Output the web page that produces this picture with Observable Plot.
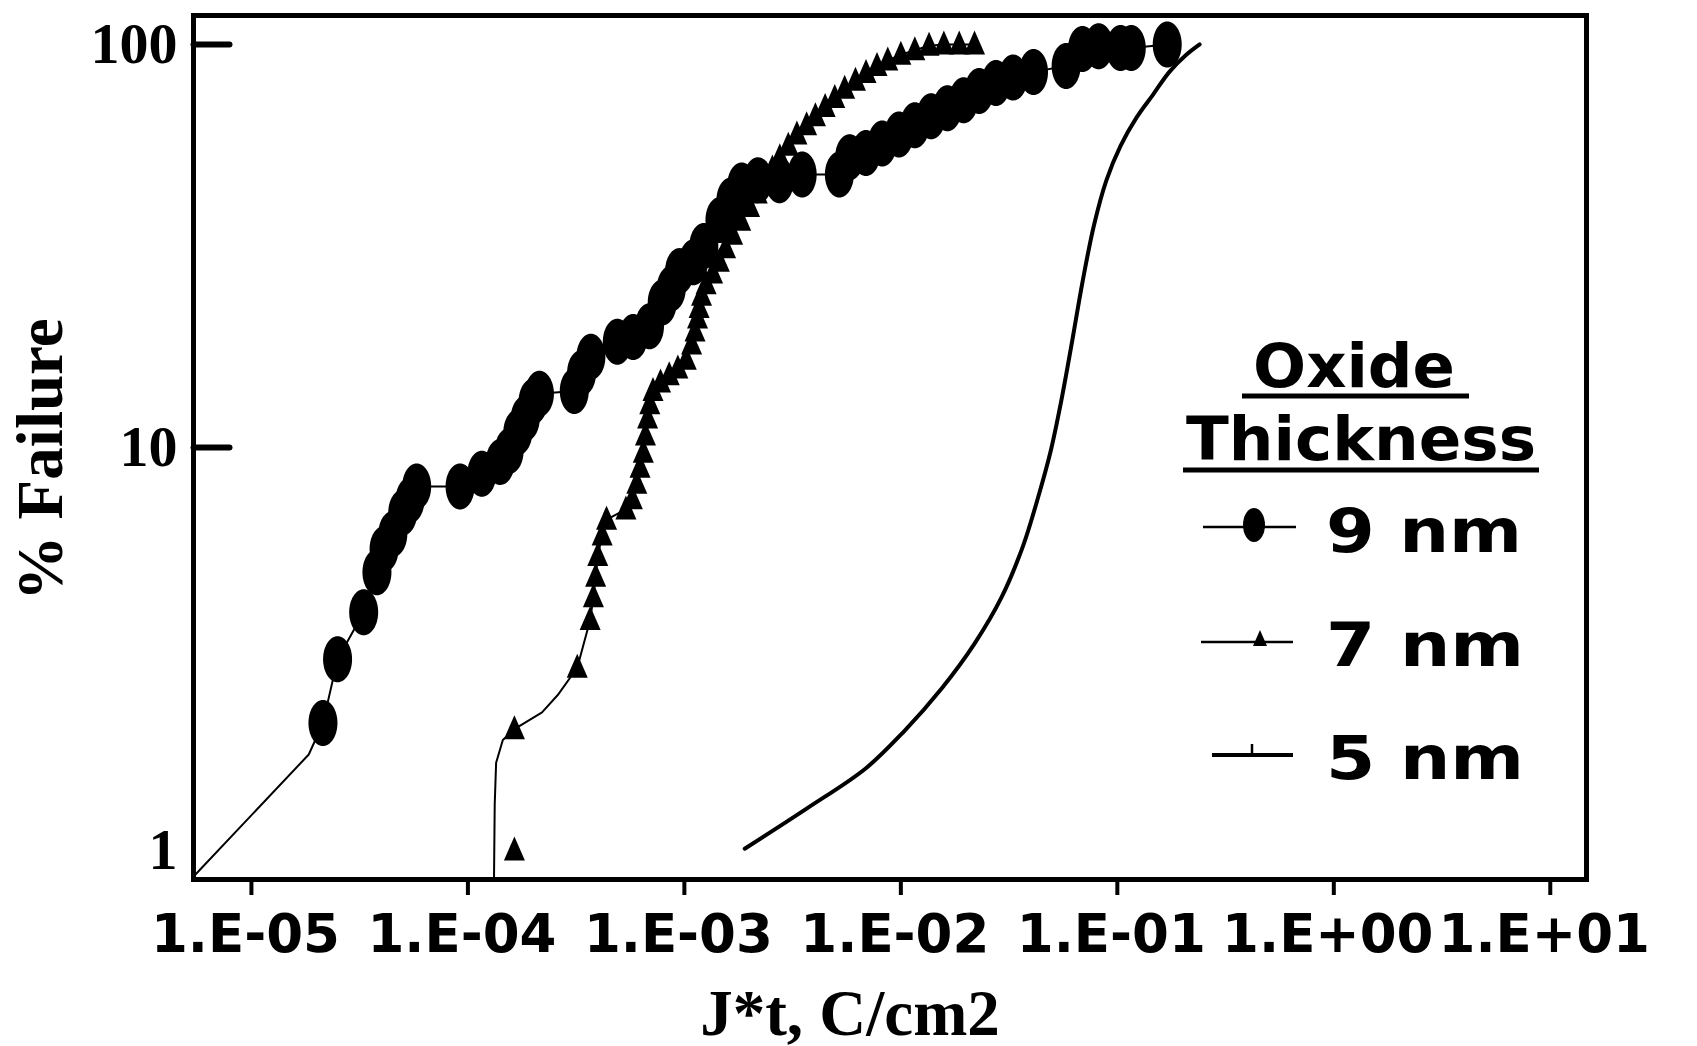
<!DOCTYPE html>
<html>
<head>
<meta charset="utf-8">
<script src="https://cdn.jsdelivr.net/npm/d3@7"></script>
<script src="https://cdn.jsdelivr.net/npm/@observablehq/plot@0.6"></script>
<style>
  html, body { margin: 0; padding: 0; background: #fff; overflow: hidden; }
  #wrap { position: relative; width: 1697px; height: 1046px; }
  #wrap > svg.plot { display: block; }
  #legend { position: absolute; left: 0; top: 0; pointer-events: none; }
</style>
</head>
<body>
<div id="wrap"></div>
<script>
// ---- tick labels ----
const xTickValues = [1e-5, 1e-4, 1e-3, 1e-2, 1e-1, 1, 10];
const xTickLabels = ["1.E-05", "1.E-04", "1.E-03", "1.E-02", "1.E-01", "1.E+00", "1.E+01"];
const yTickValues = [1, 10, 100];
const yTickLabels = ["1", "10", "100"];
const yInnerTicks = [10, 100];

// ---- 9 nm oxide (ellipse markers), J*t [C/cm2] and % failure ----
const nm9J = [2.14e-5, 2.5e-5, 3.3e-5, 3.8e-5, 4.1e-5, 4.5e-5, 5.0e-5, 5.4e-5, 5.8e-5,
  9.2e-5, 1.16e-4, 1.41e-4, 1.55e-4, 1.7e-4, 1.84e-4, 2.0e-4, 2.14e-4, 3.1e-4, 3.35e-4,
  3.7e-4, 4.9e-4, 5.8e-4, 6.9e-4, 7.9e-4, 8.7e-4, 9.5e-4, 1.1e-3, 1.23e-3, 1.46e-3,
  1.64e-3, 1.84e-3, 2.19e-3, 2.75e-3, 3.5e-3, 5.2e-3, 5.8e-3, 6.9e-3, 8.2e-3, 9.8e-3,
  1.16e-2, 1.38e-2, 1.64e-2, 1.95e-2, 2.3e-2, 2.75e-2, 3.3e-2, 4.1e-2, 5.8e-2, 6.9e-2,
  8.2e-2, 0.1035, 0.116, 0.17];
const nm9F = [2.07, 2.98, 3.9, 4.9, 5.6, 6.1, 6.9, 7.4, 8.0,
  8.0, 8.6, 9.2, 9.8, 10.9, 11.8, 13.0, 13.6, 13.8, 15.3,
  16.8, 18.3, 18.8, 20.0, 22.9, 24.8, 27.4, 28.8, 31.6, 36.7,
  41, 44.7, 46, 46, 47.6, 47.6, 52.5, 53.8, 56.8, 59.8,
  63, 66.4, 69.5, 72.7, 76.6, 80.2, 82.8, 85.5, 88.4, 97.4,
  99, 98, 98, 100];
// the 9 nm line starts at the lower-left corner
const nm9LeadJ = [5.5e-6, 1.84e-5];
const nm9LeadF = [0.87, 1.73];

// ---- 7 nm oxide (triangle markers) ----
const nm7J = [1.64e-4, 1.64e-4, 3.2e-4, 3.67e-4, 3.80e-4, 3.89e-4, 3.98e-4, 4.17e-4, 4.37e-4,
  5.37e-4, 5.75e-4, 6.03e-4, 6.24e-4, 6.46e-4, 6.61e-4, 6.76e-4, 6.92e-4, 7.16e-4, 7.76e-4,
  8.51e-4, 9.33e-4, 1.02e-3, 1.08e-3, 1.12e-3, 1.15e-3, 1.17e-3, 1.20e-3, 1.26e-3, 1.35e-3,
  1.45e-3, 1.55e-3, 1.67e-3, 1.82e-3, 2.0e-3, 2.17e-3, 2.35e-3, 2.55e-3, 2.76e-3, 3.02e-3,
  3.31e-3, 3.67e-3, 4.03e-3, 4.47e-3, 4.95e-3, 5.5e-3, 6.17e-3, 6.9e-3, 7.76e-3, 8.7e-3,
  1.0e-2, 1.16e-2, 1.35e-2, 1.58e-2, 1.86e-2, 2.19e-2];
const nm7F = [1.0, 2.0, 2.84, 3.73, 4.25, 4.78, 5.38, 6.05, 6.62,
  7.02, 7.44, 8.13, 8.9, 9.7, 10.7, 11.8, 12.8, 13.8, 14.5,
  15.1, 15.7, 16.5, 18.0, 19.4, 20.9, 22.2, 23.8, 25.4, 27.0,
  28.9, 31.2, 33.7, 36.5, 39.5, 42.7, 46.1, 49.2, 52.5, 56.1,
  59.8, 63.0, 66.4, 70.0, 73.6, 77.6, 81.3, 85.0, 88.4, 91.3,
  94.3, 96.8, 99.3, 100, 100, 100];
// start of the 7 nm line (rises from the axis before the markers)
const nm7LeadJ = [1.32e-4, 1.33e-4, 1.35e-4, 1.45e-4, 1.64e-4, 2.2e-4, 2.6e-4];
const nm7LeadF = [0.85, 1.3, 1.65, 1.88, 2.0, 2.2, 2.43];

// ---- 5 nm oxide (line) ----
const nm5J = [1.9e-3, 3.67e-3, 6.9e-3, 1.03e-2, 1.55e-2, 2.19e-2, 2.92e-2, 3.67e-2, 4.36e-2,
  4.9e-2, 5.5e-2, 6.2e-2, 6.9e-2, 7.8e-2, 8.9e-2, 0.1035, 0.123, 0.146, 0.174, 0.207, 0.24];
const nm5F = [1.01, 1.27, 1.6, 1.97, 2.53, 3.26, 4.25, 5.7, 7.7,
  9.7, 13, 18.5, 25.7, 35.6, 46, 56, 66, 75, 85.5, 94, 100];

// ---- build tables ----
const zip = (J, F) => J.map((j, i) => ({J: j, F: F[i]}));
const nm9 = zip(nm9J, nm9F);
const nm9Line = zip(nm9LeadJ, nm9LeadF).concat(nm9);
const nm7 = zip(nm7J, nm7F);
const nm7Line = zip(nm7LeadJ, nm7LeadF).concat(nm7.slice(2));
const nm5 = zip(nm5J, nm5F);

// custom marker / tick shapes
const ellipseSym = {draw(ctx) {
  const rx = 14.5, ry = 23, k = 0.5523;
  ctx.moveTo(rx, 0);
  ctx.bezierCurveTo(rx, ry * k, rx * k, ry, 0, ry);
  ctx.bezierCurveTo(-rx * k, ry, -rx, ry * k, -rx, 0);
  ctx.bezierCurveTo(-rx, -ry * k, -rx * k, -ry, 0, -ry);
  ctx.bezierCurveTo(rx * k, -ry, rx, -ry * k, rx, 0);
  ctx.closePath();
}};
const triSym = {draw(ctx) {
  ctx.moveTo(0, -14); ctx.lineTo(10.5, 10); ctx.lineTo(-10.5, 10); ctx.closePath();
}};
const tickShape = {draw(ctx, l) { ctx.moveTo(0, 0); ctx.lineTo(0, -l); }};

const serif = "'Liberation Serif', 'Times New Roman', serif";
const sans = "'DejaVu Sans', Verdana, sans-serif";

const chart = Plot.plot({
  width: 1697,
  height: 1046,
  marginLeft: 193,
  marginRight: 111,
  marginTop: 15,
  marginBottom: 167,
  style: {background: "white", color: "black", overflow: "visible"},
  x: {type: "log", domain: [5.4e-6, 14.7]},
  y: {type: "log", domain: [0.847, 118]},
  marks: [
    // x-axis tick marks (outward)
    Plot.axisX({ticks: xTickValues, tickFormat: () => "", tickSize: 16, strokeWidth: 4, label: null}),
    // x-axis tick labels
    Plot.axisX({ticks: xTickValues, tickFormat: d => xTickLabels[xTickValues.indexOf(d)],
      tickSize: 0, tickPadding: 35, fontSize: 53, fontFamily: sans,
      fontWeight: "bold", dx: -6, label: null}),
    Plot.axisY({ticks: yTickValues, tickFormat: d => yTickLabels[yTickValues.indexOf(d)],
      tickSize: 0, tickPadding: 16, fontSize: 58, fontFamily: serif, fontWeight: "bold",
      label: null}),
    // inward y ticks at 10 and 100
    Plot.vector(yInnerTicks, {y: d => d, frameAnchor: "left", rotate: 90, length: 36,
      anchor: "start", shape: tickShape, stroke: "black", strokeWidth: 6}),
    Plot.text(["% Failure"], {frameAnchor: "left", textAnchor: "middle", lineAnchor: "middle",
      rotate: -90, dx: -152, dy: 12,
      fontSize: 65, fontFamily: serif, fontWeight: "bold", fill: "black"}),
    Plot.text(["J*t, C/cm2"], {frameAnchor: "bottom", textAnchor: "middle", lineAnchor: "bottom",
      dx: -40, dy: 155,
      fontSize: 65, fontFamily: serif, fontWeight: "bold", fill: "black"}),
    Plot.line(nm5, {x: "J", y: "F", stroke: "black", strokeWidth: 4, curve: "catmull-rom"}),
    Plot.line(nm7Line, {x: "J", y: "F", stroke: "black", strokeWidth: 2}),
    Plot.line(nm9Line, {x: "J", y: "F", stroke: "black", strokeWidth: 2}),
    Plot.dot(nm7, {x: "J", y: "F", symbol: triSym, fill: "black", stroke: "none"}),
    Plot.dot(nm9, {x: "J", y: "F", symbol: ellipseSym, fill: "black", stroke: "none"}),
    Plot.frame({stroke: "black", strokeWidth: 5})
  ]
});
chart.classList.add("plot");
document.getElementById("wrap").appendChild(chart);

// ---- legend (inside the frame, right side) ----
const legendTitle = ["Oxide", "Thickness"];
const legendItems = ["9 nm", "7 nm", "5 nm"];
const NS = "http://www.w3.org/2000/svg";
const lg = document.createElementNS(NS, "svg");
lg.setAttribute("id", "legend");
lg.setAttribute("width", 1697);
lg.setAttribute("height", 1046);
function el(tag, attrs, text) {
  const e = document.createElementNS(NS, tag);
  for (const k in attrs) e.setAttribute(k, attrs[k]);
  if (text != null) e.textContent = text;
  lg.appendChild(e);
  return e;
}
const tStyle = {"font-family": sans, "font-weight": "bold", "font-size": 61, fill: "black",
  lengthAdjust: "spacingAndGlyphs"};
el("text", {...tStyle, x: 1253, y: 387, textLength: 202}, legendTitle[0]);
el("line", {x1: 1242, x2: 1469, y1: 396, y2: 396, stroke: "black", "stroke-width": 5});
el("text", {...tStyle, x: 1186, y: 460, textLength: 350}, legendTitle[1]);
el("line", {x1: 1183, x2: 1539, y1: 470, y2: 470, stroke: "black", "stroke-width": 5});
// 9 nm
el("line", {x1: 1203, x2: 1296, y1: 527, y2: 527, stroke: "black", "stroke-width": 2.5});
el("ellipse", {cx: 1254, cy: 525, rx: 11, ry: 17, fill: "black"});
el("text", {...tStyle, x: 1326, y: 552, textLength: 196}, legendItems[0]);
// 7 nm
el("line", {x1: 1201, x2: 1293, y1: 642, y2: 642, stroke: "black", "stroke-width": 2.5});
el("path", {d: "M1260,630L1267,646L1253,646Z", fill: "black"});
el("text", {...tStyle, x: 1326, y: 666, textLength: 198}, legendItems[1]);
// 5 nm
el("line", {x1: 1212, x2: 1293, y1: 755, y2: 755, stroke: "black", "stroke-width": 4});
el("line", {x1: 1252, x2: 1252, y1: 744, y2: 755, stroke: "black", "stroke-width": 2.5});
el("text", {...tStyle, x: 1326, y: 779, textLength: 198}, legendItems[2]);
document.getElementById("wrap").appendChild(lg);
</script>
</body>
</html>
